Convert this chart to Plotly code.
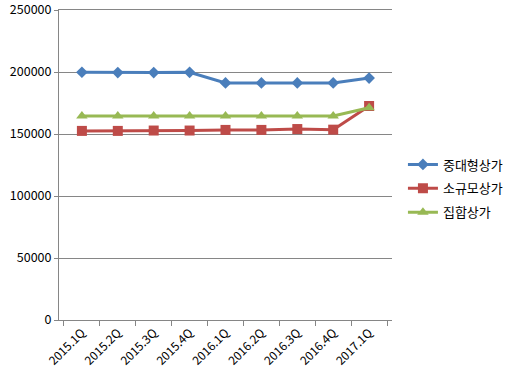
import plotly.graph_objects as go

categories = ["2015.1Q", "2015.2Q", "2015.3Q", "2015.4Q", "2016.1Q", "2016.2Q", "2016.3Q", "2016.4Q", "2017.1Q"]
series_names = ["중대형상가", "소규모상가", "집합상가"]
mid_large = [199800, 199500, 199500, 199700, 191200, 191200, 191200, 191200, 195100]
small = [152500, 152500, 152800, 152800, 153300, 153300, 154000, 153500, 172600]
complex_ = [164600, 164600, 164600, 164600, 164600, 164600, 164600, 164600, 171200]
y_ticks = [0, 50000, 100000, 150000, 200000, 250000]

colors = ["#4A7EBB", "#BE4B48", "#98B954"]
symbols = ["diamond", "square", "triangle-up"]
sizes = [9, 10, 10]

fig = go.Figure()
for name, vals, c, s, sz in zip(series_names, [mid_large, small, complex_], colors, symbols, sizes):
    fig.add_trace(go.Scatter(
        x=categories, y=vals, name=name, mode="lines+markers", legendgroup=name,
        line=dict(color=c, width=3),
        marker=dict(symbol=s, size=sz, color=c),
    ))

fig.update_layout(
    width=512, height=377,
    margin=dict(l=59, r=120, t=10, b=57),
    paper_bgcolor="white", plot_bgcolor="white",
    font=dict(family="Noto Sans CJK KR, Noto Sans, sans-serif", size=12, color="#000000"),
    showlegend=True,
    legend=dict(xref="container", yref="container", x=0.787, y=0.5,
                xanchor="left", yanchor="middle",
                font=dict(size=13), tracegroupgap=4, itemwidth=30),
)
fig.update_xaxes(
    type="category", tickangle=-45, showgrid=False, automargin=False,
    showline=True, linecolor="#868686", linewidth=1, mirror=True,
    ticks="outside", ticklen=5, tickcolor="#868686",
    tickson="boundaries", tickfont=dict(size=12), ticklabeloverflow="allow",
)
fig.update_yaxes(
    range=[0, 250000], tickvals=y_ticks, ticktext=[str(v) for v in y_ticks],
    showgrid=True, gridcolor="#868686", gridwidth=1, automargin=False,
    showline=True, linecolor="#868686", linewidth=1,
    ticks="outside", ticklen=4, tickcolor="#868686",
    zeroline=False, tickfont=dict(size=12.5), ticklabeloverflow="allow",
)

fig.write_html("out.html", config={"displayModeBar": False},
               post_script="document.body.style.margin='0';")
